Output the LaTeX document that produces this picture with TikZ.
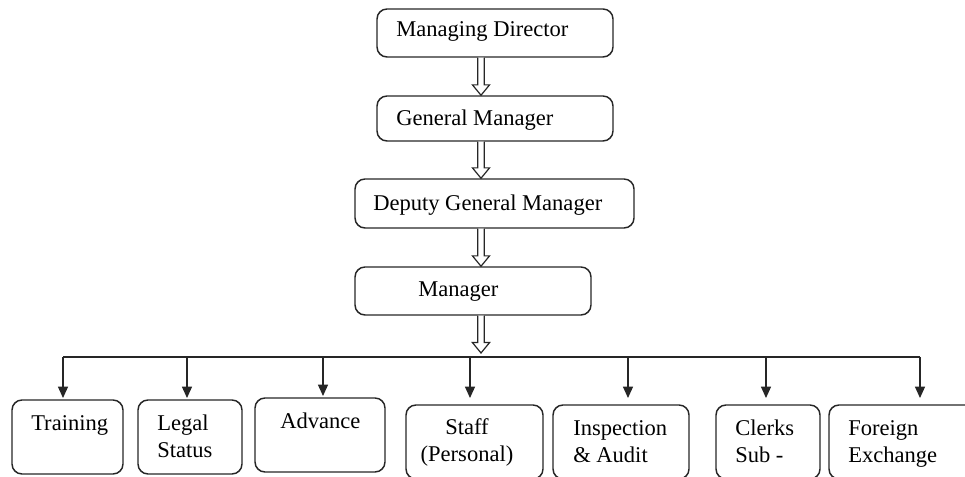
\documentclass[tikz,border=0pt]{standalone}
\usepackage{fontspec}
\setmainfont{Liberation Serif}
\usetikzlibrary{arrows.meta,fit,calc}
\tikzset{
  box/.style={draw=black!85, line width=1.1pt, rounded corners=7.5pt, inner sep=0pt},
  lbl/.style={anchor=base west, inner sep=0pt, text=black, font=\fontsize{16.9}{20}\selectfont},
  lblc/.style={anchor=base, inner sep=0pt, text=black, font=\fontsize{16.9}{20}\selectfont},
  hollow/.style={draw=black!85, line width=0.9pt, fill=white, line join=miter,
    to path={let \p1=(\tikztostart), \p2=(\tikztotarget) in
      (\x1-2.5pt,\y1) -- (\x1-2.5pt,\y2+7.8pt) -- (\x1-6.4pt,\y2+7.8pt) -- (\x1,\y2)
      -- (\x1+6.4pt,\y2+7.8pt) -- (\x1+2.5pt,\y2+7.8pt) -- (\x1+2.5pt,\y1)}},
  drop/.style={draw=black!85, line width=0.9pt, -{Triangle[length=8.5pt,width=7.5pt]}},
  bus/.style={draw=black!85, line width=0.9pt}
}
\begin{document}
\begin{tikzpicture}[x=0.75pt,y=-0.75pt]
\useasboundingbox (0,0) rectangle (965,477);
\clip (0,0) rectangle (965,477);
% upper boxes
\node[box, fit={(377,9) (613,57)}] (md) {};
\node[box, fit={(377,96) (613,141)}] (gm) {};
\node[box, fit={(355,179) (634,228)}] (dgm) {};
\node[box, fit={(355,267) (591,315)}] (mgr) {};
\node[lbl] (tmd) at (396,37) {Managing Director};
\node[lbl] (tgm) at (396,126) {General Manager};
\node[lbl] (tdgm) at (373,211) {Deputy General Manager};
\node[lbl] (tmgr) at (418,297) {Manager};
% hollow arrows
\coordinate (ax) at (481,0);
\coordinate (bt) at (481,353);
\draw[hollow] (md.south -| ax) to (gm.north -| ax);
\draw[hollow] (gm.south -| ax) to (dgm.north -| ax);
\draw[hollow] (dgm.south -| ax) to (mgr.north -| ax);
\draw[hollow] (mgr.south -| ax) to (bt);
% bottom boxes
\node[box, fit={(12,400) (123,474)}] (tr) {};
\node[box, fit={(138,400) (242,474)}] (lg) {};
\node[box, fit={(255,398) (385,472)}] (adv) {};
\node[box, fit={(406,405) (543,479)}] (stf) {};
\node[box, fit={(553,405) (689,479)}] (ins) {};
\node[box, fit={(716,405) (820,479)}] (clk) {};
\node[box, fit={(829,405) (995,479)}] (fx) {};
\node[lbl] (ttr) at (31,431) {Training};
\node[lbl] (tlg1) at (157,431) {Legal};
\node[lbl] (tlg2) at (157,458) {Status};
\node[lbl] (tadv) at (280,429) {Advance};
\node[lblc] (tst1) at (467,435) {Staff};
\node[lblc] (tst2) at (467,462) {(Personal)};
\node[lbl] (tin1) at (573,436) {Inspection};
\node[lbl] (tin2) at (573,463) {\& Audit};
\node[lbl] (tcl1) at (735,436) {Clerks};
\node[lbl] (tcl2) at (735,463) {Sub -};
\node[lbl] (tfx1) at (848,436) {Foreign};
\node[lbl] (tfx2) at (848,463) {Exchange};
% bus and drops
\coordinate (bl) at (63,357);
\coordinate (br) at (920,357);
\draw[bus] (bl) -- (br);
\coordinate (d1) at (63,398);
\coordinate (d2) at (187,398);
\coordinate (d3) at (323,396);
\coordinate (d4) at (470,398);
\coordinate (d5) at (628,398);
\coordinate (d6) at (766,398);
\coordinate (d7) at (920,398);
\foreach \d in {d1,d2,d3,d4,d5,d6,d7}{
  \draw[drop] (\d |- bl) -- (\d);
}
\end{tikzpicture}
\end{document}
